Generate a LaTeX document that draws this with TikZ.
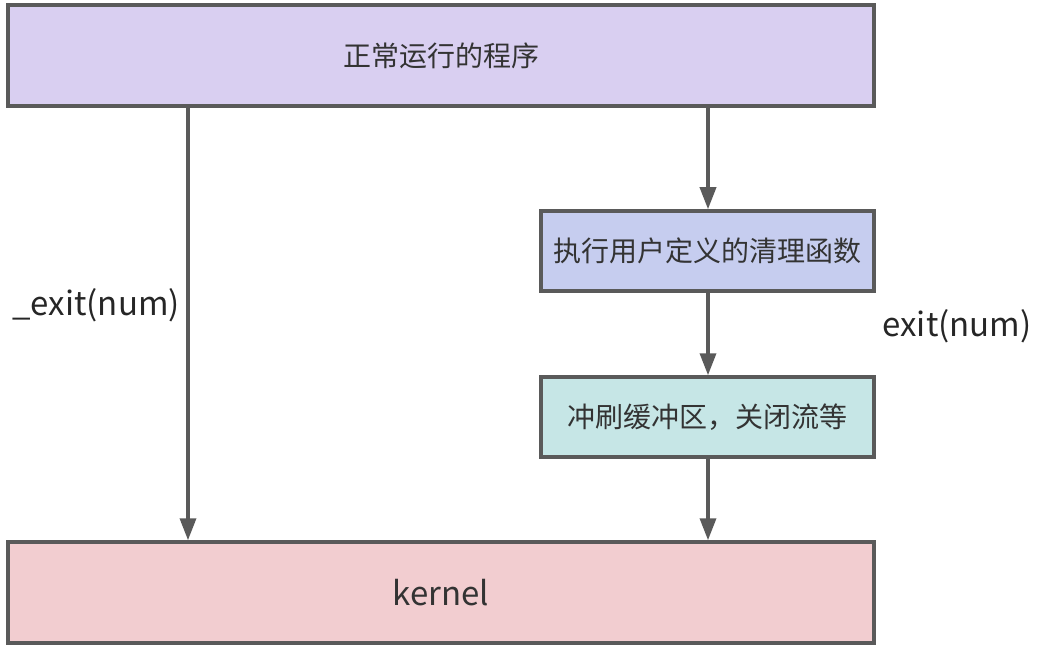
\documentclass[tikz,border=0pt]{standalone}
\usepackage{fontspec}
\setmainfont{Noto Sans CJK SC}
\usetikzlibrary{arrows.meta}
\definecolor{edge}{HTML}{5A5A5A}
\definecolor{fillA}{HTML}{D9CFF1}
\definecolor{fillB}{HTML}{C6CDEF}
\definecolor{fillC}{HTML}{C6E6E6}
\definecolor{fillD}{HTML}{F2CDD0}
\tikzset{
  box/.style={draw=edge, line width=3.5pt, rectangle, inner sep=0pt, font=\fontsize{28}{34}\selectfont, text=black!80},
  conn/.style={draw=edge, line width=3.5pt, -{Triangle[width=16pt,length=22pt]}},
  lbl/.style={font=\fontsize{33}{40}\selectfont, text=black!85}
}
\begin{document}
\begin{tikzpicture}[x=1pt,y=-1pt]
\useasboundingbox (0,0) rectangle (1050,650);
\node[box, fill=fillA, minimum width=866pt, minimum height=101pt] (top) at (441,55.5) {正常运行的程序};
\node[box, fill=fillB, minimum width=333pt, minimum height=80pt] (clean) at (707.5,251) {执行用户定义的清理函数};
\node[box, fill=fillC, minimum width=333pt, minimum height=80pt] (flush) at (707.5,417) {冲刷缓冲区，关闭流等};
\node[box, fill=fillD, minimum width=866pt, minimum height=101pt, font=\fontsize{33}{40}\selectfont] (kern) at (441,592.5) {kernel};
\coordinate (t1) at (188,106);
\coordinate (k1) at (188,542);
\coordinate (t2) at (708,106);
\coordinate (k2) at (708,542);
\draw[conn] (top.south -| t1) -- (kern.north -| k1);
\draw[conn] (top.south -| t2) -- (clean.north -| t2);
\draw[conn] (clean.south -| t2) -- (flush.north -| t2);
\draw[conn] (flush.south -| t2) -- (kern.north -| k2);
\node[lbl] (l1) at (96,305) {\_exit(num)};
\node[lbl] (l2) at (957,326) {exit(num)};
\end{tikzpicture}
\end{document}
